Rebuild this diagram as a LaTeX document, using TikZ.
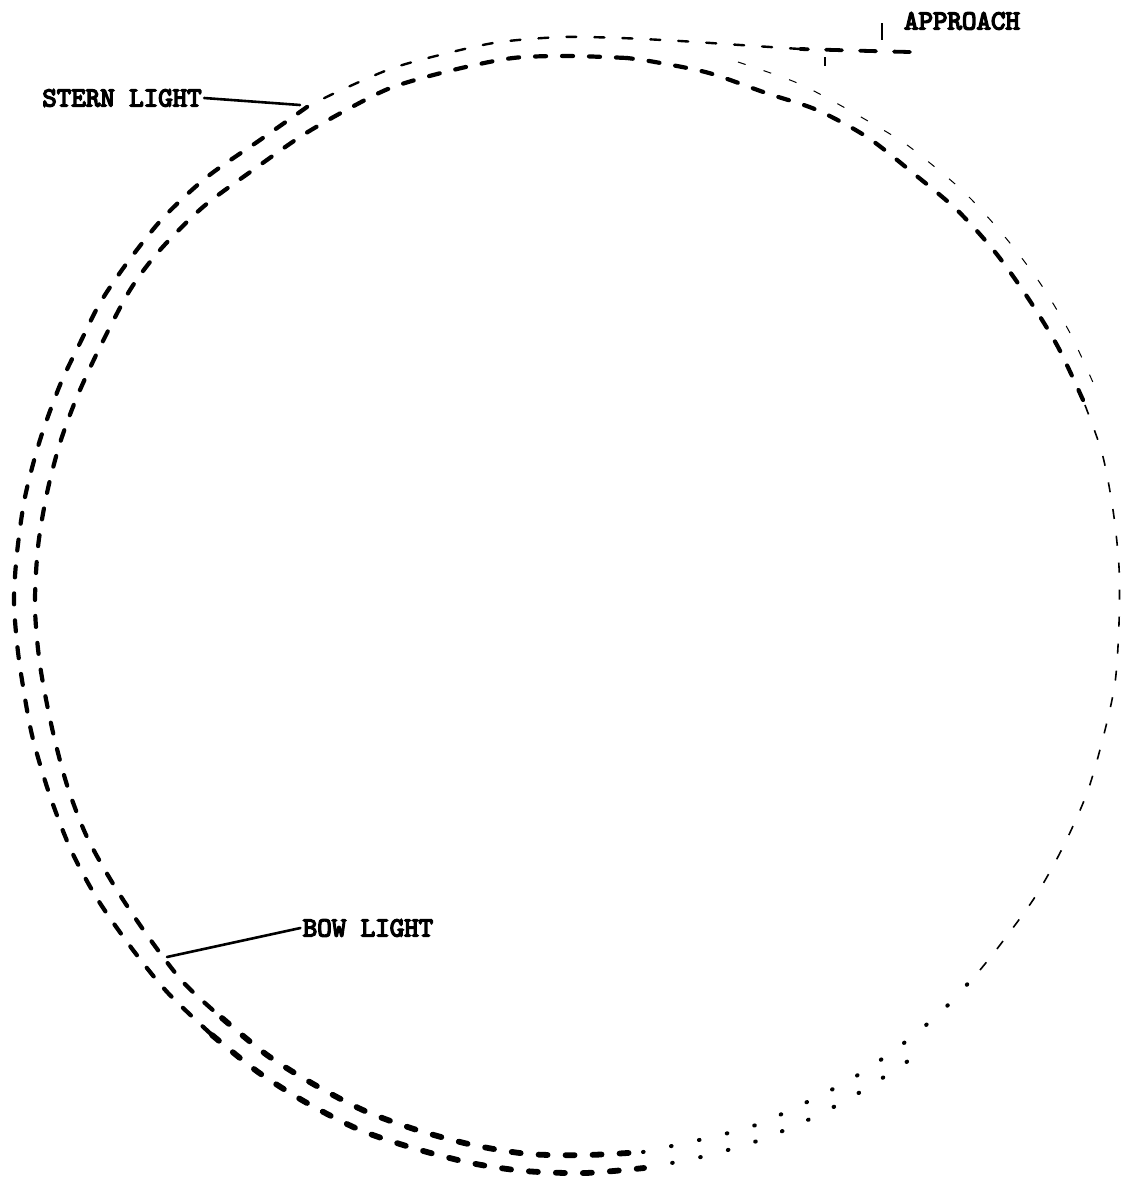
\documentclass[tikz,border=0pt]{standalone}
\usepackage{fontspec}
\newfontfamily\labelfont{lmmono10-regular}[Extension=.otf, FakeBold=5]
\begin{document}
\begin{tikzpicture}[x=0.5pt,y=-0.5pt,
  lbl/.style={font=\fontsize{13.8}{15}\selectfont\labelfont, inner sep=1pt},
  leader/.style={line width=1.3pt, line cap=round},
  tick/.style={line width=0.6pt},
  trkthick/.style={line width=2.1pt, dash pattern=on 5.5pt off 8pt, line cap=round},
  trkheavy/.style={line width=2.9pt, dash pattern=on 4.5pt off 9pt, line cap=round},
  trkdots/.style={line width=2pt, dash pattern=on 0.3pt off 14pt, line cap=round},
  trkthin/.style={line width=0.8pt, dash pattern=on 5pt off 8.5pt},
  trkfaint/.style={line width=0.5pt, dash pattern=on 4pt off 9.5pt},
  trktop/.style={line width=1.2pt, dash pattern=on 5pt off 9pt, line cap=round},
  trkapp/.style={line width=1.9pt, dash pattern=on 8pt off 9pt, line cap=round}]
\useasboundingbox (0,0) rectangle (1129,1189);

% ---------- inner track (bow light) ----------
\draw[trkthick] plot[smooth] coordinates {(627,58) (570,56) (513,58) (453,70) (393,87) (350,108) (303,135) (253,170) (203,207) (160,250) (130,290) (100,347) (77,397) (60,443) (47,493) (38,547) (35,607) (40,665) (52,728) (67,785) (87,837) (115,887) (147,935) (183,982) (222,1018)};
\draw[trkheavy] plot[smooth] coordinates {(222,1018) (267,1055) (315,1085) (365,1111) (417,1130) (473,1145) (529,1154) (587,1155) (643,1152)};
\draw[trkdots] plot[smooth] coordinates {(643,1152) (699,1140) (753,1126) (803,1104) (853,1078) (900,1046) (943,1010) (980,970)};
\draw[trkthin] plot[smooth] coordinates {(980,970) (1000,945) (1035,897) (1063,847) (1087,793) (1103,738) (1115,683) (1119,623) (1119,567) (1113,510) (1102,453) (1083,400)};
\draw[trkthick] plot[smooth] coordinates {(1083,400) (1058,347) (1028,298) (995,252) (957,210) (913,173) (867,137) (817,110) (766,93) (709,73) (655,62) (627,58)};

% ---------- outer track (stern light) ----------
\draw[trkapp] plot[smooth] coordinates {(910,52) (870,51) (800,49)};
\draw[trktop] plot[smooth] coordinates {(800,49) (740,45) (680,41) (620,38) (562,37) (500,42) (452,52) (393,68) (337,92) (307,107)};
\draw[trkthick] plot[smooth] coordinates {(307,107) (260,140) (207,177) (163,218) (127,263) (100,303) (80,343) (60,385) (40,440) (25,497) (17,553) (14,600) (17,643) (22,680) (32,735) (49,793) (71,850) (98,900) (133,950) (168,993) (212,1035)};
\draw[trkheavy] plot[smooth] coordinates {(212,1035) (258,1072) (307,1103) (360,1130) (413,1148) (471,1163) (525,1171) (585,1173) (644,1168)};
\draw[trkdots] plot[smooth] coordinates {(644,1168) (701,1157) (757,1141) (812,1118) (862,1091) (911,1059)};
\draw[trkfaint] plot[smooth] coordinates {(738,62) (795,82) (838,104) (895,137) (920,155) (965,193) (1005,237) (1040,283) (1070,333) (1095,387)};

% ---------- labels ----------
\node[lbl] (stern) at (122,98) {STERN LIGHT};
\node[lbl] (bow) at (368,928) {BOW LIGHT};
\node[lbl] (approach) at (962,21) {APPROACH};

\coordinate (sternend) at (300,105);
\coordinate (bowend) at (167,957);
\draw[leader] (stern.east) -- (sternend);
\draw[leader] (bow.west) -- (bowend);

\coordinate (t1a) at (882,23);
\coordinate (t1b) at (882,40);
\coordinate (t2a) at (825,57);
\coordinate (t2b) at (825,66);
\draw[tick] (t1a) -- (t1b);
\draw[tick] (t2a) -- (t2b);
\end{tikzpicture}
\end{document}
